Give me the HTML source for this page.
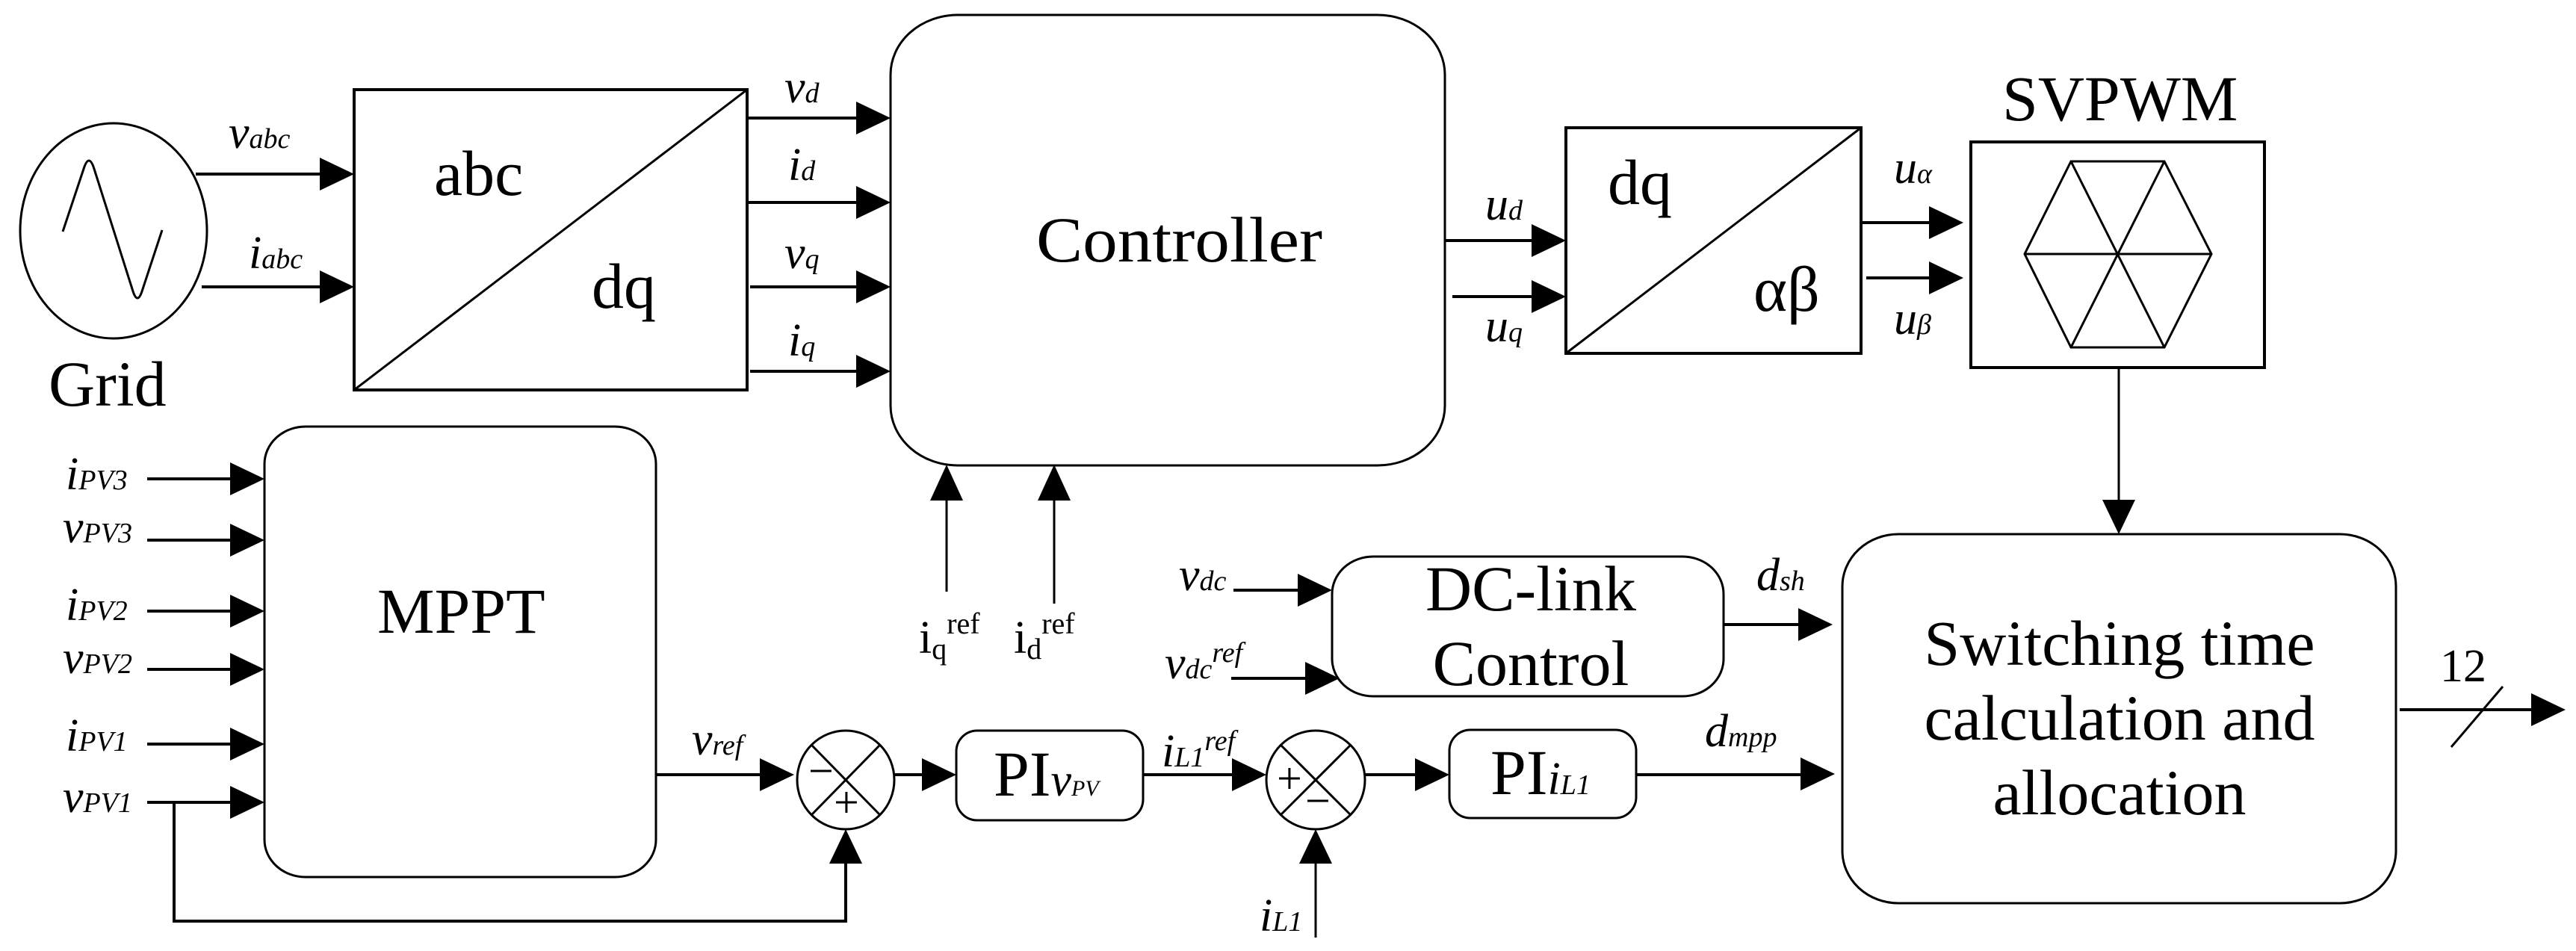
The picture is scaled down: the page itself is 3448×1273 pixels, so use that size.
<!DOCTYPE html>
<html><head><meta charset="utf-8"><style>
html,body{margin:0;padding:0;background:#fff}
svg{display:block}
svg text{font-family:"Liberation Serif","DejaVu Serif",serif;fill:#000}
.it{font-style:italic;font-size:62px}
.sb{font-size:38px}
.big{font-size:86px}
</style></head><body>
<svg width="3448" height="1273" viewBox="0 0 3448 1273" xmlns="http://www.w3.org/2000/svg" font-family="Liberation Serif, serif">
<g fill="none" stroke="#000" stroke-width="4">
<ellipse cx="152" cy="309" rx="125" ry="144" stroke-width="3"/>
<path d="M84,310 L112,226 Q119,204 126,226 L178,390 Q184,408 190,390 L217,308" stroke-width="3"/>
<rect x="474" y="120" width="526" height="402"/>
<line x1="474" y1="522" x2="1000" y2="120" stroke-width="3"/>
<rect x="1192" y="20" width="742" height="603" rx="90" ry="80" stroke-width="3"/>
<rect x="2096" y="171" width="395" height="302"/>
<line x1="2096" y1="473" x2="2491" y2="171" stroke-width="3"/>
<rect x="2638" y="190" width="393" height="302"/>
<polygon points="2772,216 2897,216 2960,340 2897,465 2772,465 2710,340" stroke-width="3"/>
<line x1="2772" y1="216" x2="2897" y2="465" stroke-width="3"/>
<line x1="2897" y1="216" x2="2772" y2="465" stroke-width="3"/>
<line x1="2710" y1="340" x2="2960" y2="340" stroke-width="3"/>
<rect x="354" y="571" width="524" height="603" rx="55" ry="50" stroke-width="3"/>
<rect x="1783" y="745" width="524" height="187" rx="55" ry="50" stroke-width="3"/>
<rect x="2466" y="715" width="741" height="494" rx="75" ry="70" stroke-width="3"/>
<rect x="1280" y="978" width="250" height="120" rx="28" ry="28" stroke-width="3"/>
<rect x="1940" y="977" width="250" height="118" rx="28" ry="28" stroke-width="3"/>
<ellipse cx="1132" cy="1044" rx="65" ry="66" stroke-width="3"/>
<line x1="1086" y1="997" x2="1178" y2="1091" stroke-width="3"/>
<line x1="1178" y1="997" x2="1086" y2="1091" stroke-width="3"/>
<ellipse cx="1761" cy="1044" rx="66" ry="66" stroke-width="3"/>
<line x1="1714" y1="997" x2="1808" y2="1091" stroke-width="3"/>
<line x1="1808" y1="997" x2="1714" y2="1091" stroke-width="3"/>
<line x1="262" y1="233" x2="440" y2="233"/>
<line x1="270" y1="384" x2="440" y2="384"/>
<line x1="1000" y1="158" x2="1160" y2="158"/>
<line x1="1000" y1="271" x2="1160" y2="271"/>
<line x1="1004" y1="384" x2="1160" y2="384"/>
<line x1="1004" y1="497" x2="1160" y2="497"/>
<line x1="1934" y1="322" x2="2060" y2="322"/>
<line x1="1944" y1="397" x2="2060" y2="397"/>
<line x1="2491" y1="298" x2="2595" y2="298"/>
<line x1="2498" y1="372" x2="2595" y2="372"/>
<line x1="2836" y1="492" x2="2836" y2="680" stroke-width="3"/>
<line x1="1267" y1="792" x2="1267" y2="660" stroke-width="3"/>
<line x1="1411" y1="808" x2="1411" y2="660" stroke-width="3"/>
<line x1="197" y1="641" x2="320" y2="641"/>
<line x1="197" y1="723" x2="320" y2="723"/>
<line x1="197" y1="818" x2="320" y2="818"/>
<line x1="197" y1="896" x2="320" y2="896"/>
<line x1="197" y1="996" x2="320" y2="996"/>
<line x1="197" y1="1074" x2="320" y2="1074"/>
<polyline points="233,1074 233,1233 1132,1233 1132,1140"/>
<line x1="878" y1="1037" x2="1030" y2="1037"/>
<line x1="1197" y1="1037" x2="1245" y2="1037"/>
<line x1="1530" y1="1037" x2="1660" y2="1037"/>
<line x1="1827" y1="1037" x2="1905" y2="1037"/>
<line x1="2190" y1="1037" x2="2420" y2="1037"/>
<line x1="1761" y1="1255" x2="1761" y2="1140" stroke-width="3"/>
<line x1="1651" y1="790" x2="1750" y2="790"/>
<line x1="1648" y1="908" x2="1760" y2="908"/>
<line x1="2307" y1="836" x2="2420" y2="836"/>
<line x1="3212" y1="950" x2="3400" y2="950"/>
<line x1="3281" y1="1000" x2="3350" y2="919" stroke-width="3"/>
</g>
<g fill="#000">
<polygon points="428,211 474,233 428,255"/>
<polygon points="428,362 474,384 428,406"/>
<polygon points="1146,136 1192,158 1146,180"/>
<polygon points="1146,249 1192,271 1146,293"/>
<polygon points="1146,362 1192,384 1146,406"/>
<polygon points="1146,475 1192,497 1146,519"/>
<polygon points="2050,300 2096,322 2050,344"/>
<polygon points="2050,375 2096,397 2050,419"/>
<polygon points="2582,276 2628,298 2582,320"/>
<polygon points="2582,350 2628,372 2582,394"/>
<polygon points="308,619 354,641 308,663"/>
<polygon points="308,701 354,723 308,745"/>
<polygon points="308,796 354,818 308,840"/>
<polygon points="308,874 354,896 308,918"/>
<polygon points="308,974 354,996 308,1018"/>
<polygon points="308,1052 354,1074 308,1096"/>
<polygon points="1017,1015 1063,1037 1017,1059"/>
<polygon points="1234,1015 1280,1037 1234,1059"/>
<polygon points="1649,1015 1695,1037 1649,1059"/>
<polygon points="1894,1015 1940,1037 1894,1059"/>
<polygon points="2410,1014 2456,1036 2410,1058"/>
<polygon points="2407,814 2453,836 2407,858"/>
<polygon points="1737,768 1783,790 1737,812"/>
<polygon points="1747,886 1793,908 1747,930"/>
<polygon points="3388,928 3434,950 3388,972"/>
<polygon points="1245,670 1267,622 1289,670"/>
<polygon points="1389,670 1411,622 1433,670"/>
<polygon points="1110,1156 1132,1110 1154,1156"/>
<polygon points="1739,1156 1761,1110 1783,1156"/>
<polygon points="2814,669 2836,715 2858,669"/>
</g>
<text x="65" y="543" class="big" font-family="Liberation Serif, serif">Grid</text>
<text x="581" y="261" class="big" font-family="Liberation Serif, serif">abc</text>
<text x="792" y="412" class="big" font-family="Liberation Serif, serif">dq</text>
<text x="1387" y="350" class="big" font-family="Liberation Serif, serif" textLength="383" lengthAdjust="spacingAndGlyphs">Controller</text>
<text x="2152" y="273" class="big" font-family="Liberation Serif, serif">dq</text>
<text x="2347" y="416" class="big" font-family="Liberation Serif, serif">αβ</text>
<text x="2680" y="161" class="big" font-family="Liberation Serif, serif">SVPWM</text>
<text x="505" y="847" class="big" font-family="Liberation Serif, serif">MPPT</text>
<text x="2049" y="817" class="big" text-anchor="middle" font-family="Liberation Serif, serif">DC-link</text>
<text x="2049" y="917" class="big" text-anchor="middle" font-family="Liberation Serif, serif">Control</text>
<text x="2837" y="890" class="big" text-anchor="middle" font-family="Liberation Serif, serif">Switching time</text>
<text x="2837" y="990" class="big" text-anchor="middle" font-family="Liberation Serif, serif">calculation and</text>
<text x="2837" y="1090" class="big" text-anchor="middle" font-family="Liberation Serif, serif">allocation</text>
<text x="1330" y="1065" class="big" font-family="Liberation Serif, serif">PI<tspan font-style="italic" font-size="62">v</tspan><tspan font-style="italic" font-size="30">PV</tspan></text>
<text x="1995" y="1063" class="big" font-family="Liberation Serif, serif">PI<tspan font-style="italic" font-size="62">i</tspan><tspan font-style="italic" font-size="38">L1</tspan></text>
<text x="3266" y="912" font-size="62" font-family="Liberation Serif, serif">12</text>
<text x="1230" y="874" font-size="62" font-family="Liberation Serif, serif">i<tspan font-size="40" dy="8">q</tspan><tspan font-size="40" dy="-34">ref</tspan></text>
<text x="1357" y="874" font-size="62" font-family="Liberation Serif, serif">i<tspan font-size="40" dy="8">d</tspan><tspan font-size="40" dy="-34">ref</tspan></text>
<g class="it" font-family="Liberation Serif, serif" font-style="italic">
<text x="306" y="198">v<tspan class="sb">abc</tspan></text>
<text x="333" y="359">i<tspan class="sb">abc</tspan></text>
<text x="1050" y="137">v<tspan class="sb">d</tspan></text>
<text x="1055" y="241">i<tspan class="sb">d</tspan></text>
<text x="1050" y="359">v<tspan class="sb">q</tspan></text>
<text x="1055" y="476">i<tspan class="sb">q</tspan></text>
<text x="1988" y="294">u<tspan class="sb">d</tspan></text>
<text x="1988" y="457">u<tspan class="sb">q</tspan></text>
<text x="2535" y="245">u<tspan class="sb">α</tspan></text>
<text x="2535" y="447">u<tspan class="sb">β</tspan></text>
<text x="88" y="655">i<tspan class="sb">PV3</tspan></text>
<text x="84" y="726">v<tspan class="sb">PV3</tspan></text>
<text x="88" y="830">i<tspan class="sb">PV2</tspan></text>
<text x="84" y="901">v<tspan class="sb">PV2</tspan></text>
<text x="88" y="1005">i<tspan class="sb">PV1</tspan></text>
<text x="84" y="1087">v<tspan class="sb">PV1</tspan></text>
<text x="926" y="1010">v<tspan class="sb">ref</tspan></text>
<text x="1555" y="1026">i<tspan class="sb">L1</tspan><tspan class="sb" dy="-22">ref</tspan></text>
<text x="1686" y="1246">i<tspan class="sb">L1</tspan></text>
<text x="1578" y="790">v<tspan class="sb">dc</tspan></text>
<text x="1559" y="908">v<tspan class="sb">dc</tspan><tspan class="sb" dy="-22">ref</tspan></text>
<text x="2351" y="790">d<tspan class="sb">sh</tspan></text>
<text x="2282" y="999">d<tspan class="sb">mpp</tspan></text>
</g>
<g font-size="60" font-family="Liberation Serif, serif">
<text x="1082" y="1052">−</text>
<text x="1116" y="1094">+</text>
<text x="1709" y="1062">+</text>
<text x="1747" y="1092">−</text>
</g>
</svg>
</body></html>
